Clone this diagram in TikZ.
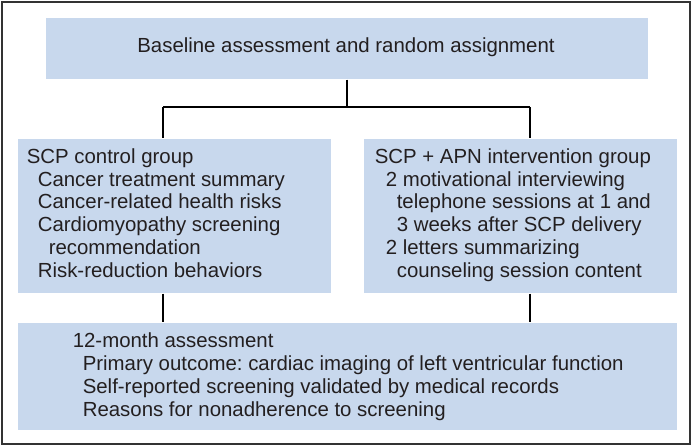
\documentclass[tikz,border=0pt]{standalone}
\usepackage{fontspec}
\setmainfont{Liberation Sans}
\frenchspacing

\definecolor{boxblue}{RGB}{200,216,237}
\definecolor{inkgrey}{RGB}{35,31,32}

\begin{document}
\begin{tikzpicture}[x=0.5pt, y=-0.5pt, thick]
	\pgfmathsetmacro{\rowstep}{22.7}
	
	\tikzset{
		box/.style={fill=boxblue, inner sep=0, anchor=north west},
		textline/.style={font=\fontsize{10.2}{12}\selectfont, text=inkgrey,
		                 inner sep=0, anchor=base west},
		link/.style={line width=1pt, black},
	}
	
	\useasboundingbox (0,0) rectangle (692,446);
	\draw [line width=1pt, black!80] (1.5,1.5) rectangle (689.5,444);
	
	% Boxes
	\node (base) [box, minimum width=301pt, minimum height=30.5pt] at (45,17) {};
	\node (ctl) [box, minimum width=156.5pt, minimum height=77pt] at (17,138) {};
	\node (apn) [box, minimum width=156.5pt, minimum height=77pt] at (363,138) {};
	\node (month) [box, minimum width=329.5pt, minimum height=53.5pt] at (17,322) {};
	
	% Box texts
	\node (basetxt) [textline, anchor=base] at (346,52.7)
	      {Baseline assessment and random assignment};
	
	\foreach \dx/\txt [count=\i from 0] in {
			26/SCP control group,
			37/Cancer treatment summary,
			37/Cancer-related health risks,
			37/Cardiomyopathy screening,
			48/recommendation,
			37/Risk-reduction behaviors}{
		\pgfmathsetmacro{\posy}{163.5 + \rowstep * \i}
		\node (ctl\i) [textline] at (\dx, \posy) {\txt};
	}
	
	\foreach \dx/\txt [count=\i from 0] in {
			374/SCP + APN intervention group,
			385/2 motivational interviewing,
			396/telephone sessions at 1 and,
			396/3 weeks after SCP delivery,
			385/2 letters summarizing,
			396/counseling session content}{
		\pgfmathsetmacro{\posy}{163.5 + \rowstep * \i}
		\node (apn\i) [textline] at (\dx, \posy) {\txt};
	}
	
	\foreach \dx/\txt [count=\i from 0] in {
			72/12-month assessment,
			82/Primary outcome: cardiac imaging of left ventricular function,
			82/Self-reported screening validated by medical records,
			82/Reasons for nonadherence to screening}{
		\pgfmathsetmacro{\posy}{347 + 23 * \i}
		\node (month\i) [textline] at (\dx, \posy) {\txt};
	}
	
	% Links between boxes
	\coordinate (ltap) at (163,0);
	\coordinate (rtap) at (530,0);
	\coordinate (fork) at (0,107);
	
	\draw [link] (base.south) -- (base.south |- fork);
	\draw [link] (fork -| ltap) -- (fork -| rtap);
	\draw [link] (fork -| ltap) -- (ctl.north -| ltap);
	\draw [link] (fork -| rtap) -- (apn.north -| rtap);
	\draw [link] (ctl.south -| ltap) -- (month.north -| ltap);
	\draw [link] (apn.south -| rtap) -- (month.north -| rtap);
	
\end{tikzpicture}
\end{document}
